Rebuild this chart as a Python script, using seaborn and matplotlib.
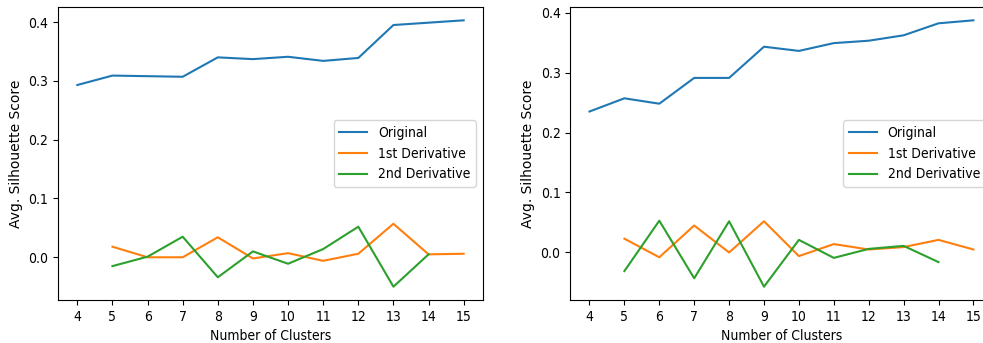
import numpy as np
import pandas as pd
import matplotlib
matplotlib.use('Agg')
import matplotlib.pyplot as plt
import seaborn as sns

# the reference text looks a bit narrow, use the condensed DejaVu face
plt.rcParams['font.family'] = ['DejaVu Sans']
plt.rcParams['font.stretch'] = 'condensed'

# cluster counts
clusters = list(range(4, 16))
clusters_d1 = list(range(5, 16))
clusters_d2 = list(range(5, 15))

# left panel
left_original = [0.293, 0.309, 0.308, 0.307, 0.340, 0.337, 0.341, 0.334, 0.339, 0.395, 0.399, 0.403]
left_d1 = [0.018, 0.000, 0.000, 0.034, -0.002, 0.007, -0.006, 0.006, 0.057, 0.005, 0.006]
left_d2 = [-0.015, 0.001, 0.035, -0.034, 0.010, -0.011, 0.014, 0.052, -0.050, 0.005]

# right panel
right_original = [0.235, 0.257, 0.248, 0.291, 0.291, 0.343, 0.336, 0.349, 0.353, 0.362, 0.382, 0.387]
right_d1 = [0.023, -0.008, 0.045, 0.000, 0.052, -0.006, 0.014, 0.005, 0.009, 0.021, 0.005]
right_d2 = [-0.031, 0.053, -0.043, 0.052, -0.057, 0.021, -0.009, 0.006, 0.011, -0.016]

series_names = ['Original', '1st Derivative', '2nd Derivative']
colors = ['#1f77b4', '#ff7f0e', '#2ca02c']


def make_long(orig, d1, d2):
    parts = []
    for name, xs, ys in zip(series_names, [clusters, clusters_d1, clusters_d2], [orig, d1, d2]):
        parts.append(pd.DataFrame({'k': xs, 'score': ys, 'series': name}))
    return pd.concat(parts, ignore_index=True)


W, H = 983, 343
fig = plt.figure(figsize=(W / 100, H / 100), dpi=100)
ax1 = fig.add_axes([58 / W, 43 / H, 425 / W, 293 / H])
ax2 = fig.add_axes([570.3 / W, 43 / H, 422.3 / W, 293 / H])

for ax, (orig, d1, d2) in zip([ax1, ax2], [(left_original, left_d1, left_d2),
                                          (right_original, right_d1, right_d2)]):
    df = make_long(orig, d1, d2)
    sns.lineplot(data=df, x='k', y='score', hue='series', hue_order=series_names,
                 palette=colors, ax=ax, linewidth=1.5)
    ax.set_xticks(clusters)
    ax.set_xlabel('Number of Clusters', fontsize=10)
    # rotated label keeps full length in the reference
    ax.set_ylabel('Avg. Silhouette Score', fontsize=10, fontstretch='normal')
    ax.tick_params(labelsize=10)
    ax.legend(loc='center right', fontsize=10, title=None)

fig.savefig('out.png', dpi=100)
